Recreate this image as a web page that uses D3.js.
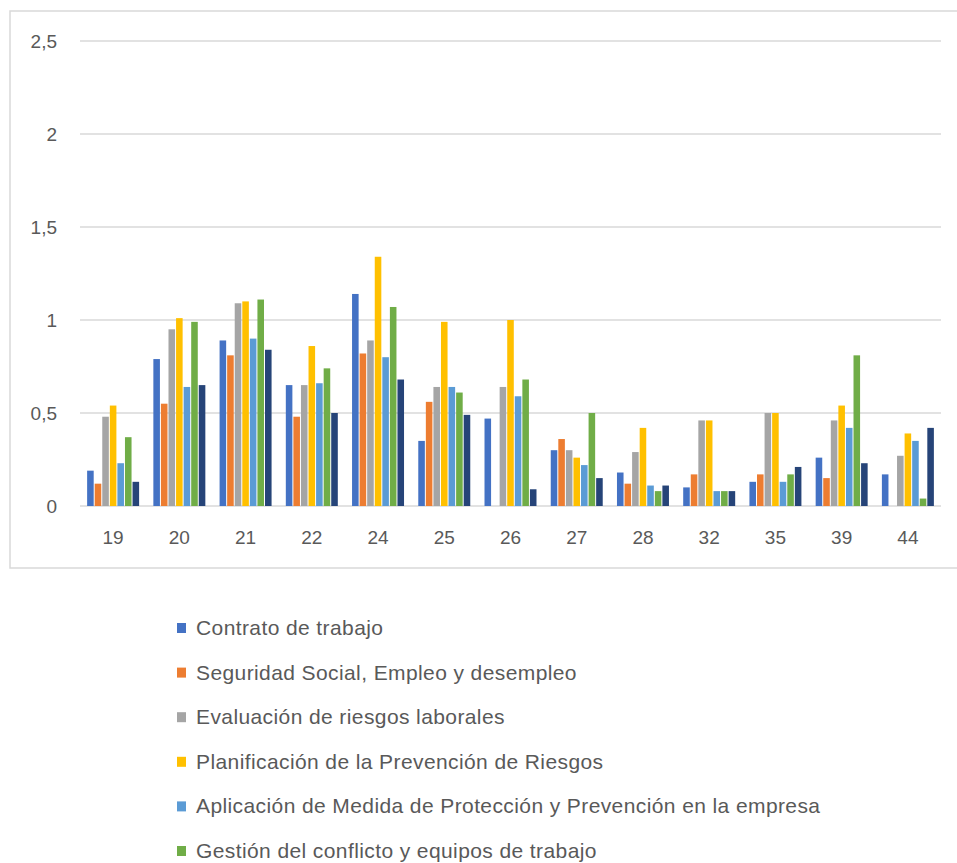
<!DOCTYPE html>
<html><head><meta charset="utf-8">
<script src="https://cdn.jsdelivr.net/npm/d3@7"></script>
<style>
html,body{margin:0;padding:0;background:#fff;overflow:hidden;}
svg{display:block;font-family:"Liberation Sans",Arial,sans-serif;}
</style></head>
<body>
<svg id="chart" width="957" height="863"></svg>
<script>
const categories = ["19","20","21","22","24","25","26","27","28","32","35","39","44"];
const seriesNames = [
  "Contrato de trabajo",
  "Seguridad Social, Empleo y desempleo",
  "Evaluación de riesgos laborales",
  "Planificación de la Prevención de Riesgos",
  "Aplicación de Medida de Protección y Prevención en la empresa",
  "Gestión del conflicto y equipos de trabajo"
];
const seriesColors = ["#4472C4","#ED7D31","#A5A5A5","#FFC000","#5B9BD5","#70AD47","#264478"];
const contrato     = [0.19,0.79,0.89,0.65,1.14,0.35,0.47,0.30,0.18,0.10,0.13,0.26,0.17];
const seguridad    = [0.12,0.55,0.81,0.48,0.82,0.56,0,   0.36,0.12,0.17,0.17,0.15,0];
const evaluacion   = [0.48,0.95,1.09,0.65,0.89,0.64,0.64,0.30,0.29,0.46,0.50,0.46,0.27];
const planificacion= [0.54,1.01,1.10,0.86,1.34,0.99,1.00,0.26,0.42,0.46,0.50,0.54,0.39];
const aplicacion   = [0.23,0.64,0.90,0.66,0.80,0.64,0.59,0.22,0.11,0.08,0.13,0.42,0.35];
const gestion      = [0.37,0.99,1.11,0.74,1.07,0.61,0.68,0.50,0.08,0.08,0.17,0.81,0.04];
const serie7       = [0.13,0.65,0.84,0.50,0.68,0.49,0.09,0.15,0.11,0.08,0.21,0.23,0.42];
const yTicks = [0,0.5,1,1.5,2,2.5];
const yTickLabels = ["0","0,5","1","1,5","2","2,5"];

const seriesValues = [contrato,seguridad,evaluacion,planificacion,aplicacion,gestion,serie7];

(function(){
const svg = d3.select("#chart");
svg.append("rect").attr("x",10).attr("y",11).attr("width",960).attr("height",557)
  .attr("fill","none").attr("stroke","#D9D9D9").attr("stroke-width",1.5);

const pL = 80, pR = 941, pT = 41, pB = 506;
const x = d3.scaleBand().domain(categories).range([pL,pR]).paddingInner(0.2).paddingOuter(0.1);
const xFull = d3.scaleBand().domain(categories).range([pL,pR]);
const y = d3.scaleLinear().domain([0,2.5]).range([pB,pT]);
const xs = d3.scaleBand().domain(d3.range(seriesValues.length)).range([0,x.bandwidth()]);

svg.append("g").selectAll("line").data(yTicks).join("line")
  .attr("x1",pL).attr("x2",pR).attr("y1",d=>y(d)).attr("y2",d=>y(d))
  .attr("stroke","#D9D9D9").attr("stroke-width",1.5);

svg.append("g").selectAll("text").data(yTicks).join("text")
  .attr("x",57).attr("y",d=>y(d)).attr("dy","0.35em").attr("text-anchor","end")
  .attr("font-size",19).attr("fill","#595959").text((d,i)=>yTickLabels[i]);

const groups = svg.append("g").selectAll("g").data(categories).join("g")
  .attr("transform",c=>`translate(${x(c)},0)`);
groups.selectAll("rect").data((c,ci)=>seriesValues.map((s,si)=>({si,v:s[ci]}))).join("rect")
  .filter(d=>d.v>0)
  .attr("x",d=>xs(d.si)+0.5).attr("width",xs.bandwidth()-1)
  .attr("y",d=>y(d.v)).attr("height",d=>pB-y(d.v))
  .attr("fill",d=>seriesColors[d.si]);

svg.append("g").selectAll("text").data(categories).join("text")
  .attr("x",c=>xFull(c)+xFull.bandwidth()/2).attr("y",537).attr("dy","0.35em")
  .attr("text-anchor","middle").attr("font-size",19).attr("fill","#595959").text(c=>c);

const lg = svg.append("g").selectAll("g").data(seriesNames).join("g")
  .attr("transform",(d,i)=>`translate(177,${628+i*44.6})`);
lg.append("rect").attr("x",0).attr("y",-5).attr("width",9).attr("height",10)
  .attr("fill",(d,i)=>seriesColors[i]);
lg.append("text").attr("x",19).attr("y",0).attr("dy","0.33em")
  .attr("font-size",21).attr("letter-spacing","0.4px").attr("fill","#595959").text(d=>d);
})();
</script>
</body></html>
